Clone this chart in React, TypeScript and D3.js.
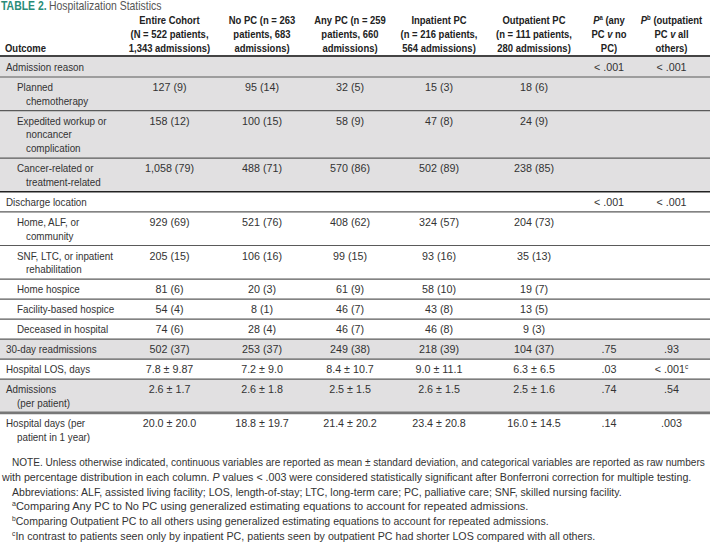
import React, { useLayoutEffect, useRef, useState } from "react";
import * as d3 from "d3";

// ---------- data ----------
const titleLabel = "TABLE 2.";
const titleText = "Hospitalization Statistics";

const columnKeys = ["outcome", "entire", "noPC", "anyPC", "inpatient", "outpatient", "pA", "pB"];

const outcomeHeader = "Outcome";
const groupHeaders = [
  ["Entire Cohort", "(N = 522 patients,", "1,343 admissions)"],
  ["No PC (n = 263", "patients, 683", "admissions)"],
  ["Any PC (n = 259", "patients, 660", "admissions)"],
  ["Inpatient PC", "(n = 216 patients,", "564 admissions)"],
  ["Outpatient PC", "(n = 111 patients,", "280 admissions)"],
];

const rowLabels = [
  ["Admission reason"],
  ["Planned", "chemotherapy"],
  ["Expedited workup or", "noncancer", "complication"],
  ["Cancer-related or", "treatment-related"],
  ["Discharge location"],
  ["Home, ALF, or", "community"],
  ["SNF, LTC, or inpatient", "rehabilitation"],
  ["Home hospice"],
  ["Facility-based hospice"],
  ["Deceased in hospital"],
  ["30-day readmissions"],
  ["Hospital LOS, days"],
  ["Admissions", "(per patient)"],
  ["Hospital days (per", "patient in 1 year)"],
];
const rowLevel = [0, 1, 1, 1, 0, 1, 1, 1, 1, 1, 0, 0, 0, 0];
const rowShaded = [1, 1, 1, 1, 0, 0, 0, 0, 0, 0, 1, 0, 1, 0];

const entireCohort = ["", "127 (9)", "158 (12)", "1,058 (79)", "", "929 (69)", "205 (15)", "81 (6)", "54 (4)", "74 (6)", "502 (37)", "7.8 ± 9.87", "2.6 ± 1.7", "20.0 ± 20.0"];
const noPC = ["", "95 (14)", "100 (15)", "488 (71)", "", "521 (76)", "106 (16)", "20 (3)", "8 (1)", "28 (4)", "253 (37)", "7.2 ± 9.0", "2.6 ± 1.8", "18.8 ± 19.7"];
const anyPC = ["", "32 (5)", "58 (9)", "570 (86)", "", "408 (62)", "99 (15)", "61 (9)", "46 (7)", "46 (7)", "249 (38)", "8.4 ± 10.7", "2.5 ± 1.5", "21.4 ± 20.2"];
const inpatientPC = ["", "15 (3)", "47 (8)", "502 (89)", "", "324 (57)", "93 (16)", "58 (10)", "43 (8)", "46 (8)", "218 (39)", "9.0 ± 11.1", "2.6 ± 1.5", "23.4 ± 20.8"];
const outpatientPC = ["", "18 (6)", "24 (9)", "238 (85)", "", "204 (73)", "35 (13)", "19 (7)", "13 (5)", "9 (3)", "104 (37)", "6.3 ± 6.5", "2.5 ± 1.6", "16.0 ± 14.5"];
const pAnyVsNo = ["< .001", "", "", "", "< .001", "", "", "", "", "", ".75", ".03", ".74", ".14"];
const pOutVsAll = ["< .001", "", "", "", "< .001", "", "", "", "", "", ".93", "< .001", ".54", ".003"];
const pOutVsAllNote = ["", "", "", "", "", "", "", "", "", "", "", "c", "", ""];

type Seg = { t: string; i?: boolean; sup?: boolean };
const footnotes: Seg[][] = [
  [{ t: "NOTE. Unless otherwise indicated, continuous variables are reported as mean ± standard deviation, and categorical variables are reported as raw numbers" }],
  [{ t: "with percentage distribution in each column. " }, { t: "P", i: true }, { t: " values < .003 were considered statistically significant after Bonferroni correction for multiple testing." }],
  [{ t: "Abbreviations: ALF, assisted living facility; LOS, length-of-stay; LTC, long-term care; PC, palliative care; SNF, skilled nursing facility." }],
  [{ t: "a", sup: true }, { t: "Comparing Any PC to No PC using generalized estimating equations to account for repeated admissions." }],
  [{ t: "b", sup: true }, { t: "Comparing Outpatient PC to all others using generalized estimating equations to account for repeated admissions." }],
  [{ t: "c", sup: true }, { t: "In contrast to patients seen only by inpatient PC, patients seen by outpatient PC had shorter LOS compared with all others." }],
];

// ---------- layout / style ----------
const W = 710;
const H = 544;
const FONT = "'Liberation Sans', Arial, Helvetica, sans-serif";
const colEdges = [0, 125, 214, 310, 390, 488, 580, 638, 705];
const headerBottom = 56;
const lineStep = 13.7;
const footLeft = [12, 2, 12, 12, 12, 12];
const footWidth = [693, 690, 610, 517, 537, 584];

const T = (p: any) => (
  <text
    transform={`translate(${p.x},${p.y}) scale(${p.sx ?? 1},1)`}
    textAnchor={p.anchor ?? "start"}
    fontSize={p.size}
    fontWeight={p.weight ?? 400}
    fill={p.fill}
    fontFamily={FONT}
  >
    {p.children}
  </text>
);

export default function App() {
  const fnRefs = useRef<(SVGTextElement | null)[]>([]);
  const [fnScale, setFnScale] = useState<number[]>(footnotes.map(() => 0.88));

  useLayoutEffect(() => {
    const s = fnRefs.current.map((el, i) => {
      if (!el) return 0.88;
      const len = el.getComputedTextLength();
      return len > 0 ? footWidth[i] / len : 0.88;
    });
    setFnScale(s);
  }, []);

  const centers = colEdges.slice(0, -1).map((e, i) => (e + colEdges[i + 1]) / 2);
  const x = d3.scaleOrdinal<string, number>().domain(columnKeys).range(centers);

  const heights = rowLabels.map((l) => 20 + lineStep * (l.length - 1));
  const tops = Array.from(d3.cumsum([headerBottom + 1, ...heights]));
  const valueCols: [string, string[]][] = [
    ["entire", entireCohort],
    ["noPC", noPC],
    ["anyPC", anyPC],
    ["inpatient", inpatientPC],
    ["outpatient", outpatientPC],
    ["pA", pAnyVsNo],
    ["pB", pOutVsAll],
  ];
  const headerKeys = ["entire", "noPC", "anyPC", "inpatient", "outpatient"];
  const hy = [24, 38, 52];
  const hs = { size: 11, weight: 700, fill: "#222", sx: 0.86, anchor: "middle" };
  const footY = d3.range(footnotes.length).map((i) => 466 + i * 14.8);

  return (
    <svg width={W} height={H} style={{ position: "absolute", left: 0, top: 0, display: "block", background: "#fff" }}>
      {/* title */}
      <T x={1} y={10} size={12} weight={700} fill="#2a8c78" sx={0.87}>{titleLabel}</T>
      <T x={49} y={10} size={12} fill="#555" sx={0.87}>{titleText}</T>

      {/* header */}
      <T x={5} y={hy[2]} size={11} weight={700} fill="#222" sx={0.86}>{outcomeHeader}</T>
      {headerKeys.map((k, ci) =>
        groupHeaders[ci].map((line, li) => (
          <T key={k + li} x={x(k)} y={hy[li]} {...hs}>{line}</T>
        ))
      )}
      <T x={x("pA")} y={hy[0]} {...hs}>
        <tspan fontStyle="italic">P</tspan>
        <tspan fontSize={7} dy={-4}>a</tspan>
        <tspan dy={4}> (any</tspan>
      </T>
      <T x={x("pA")} y={hy[1]} {...hs}>PC <tspan fontStyle="italic">v</tspan> no</T>
      <T x={x("pA")} y={hy[2]} {...hs}>PC)</T>
      <T x={x("pB")} y={hy[0]} {...hs}>
        <tspan fontStyle="italic">P</tspan>
        <tspan fontSize={7} dy={-4}>b</tspan>
        <tspan dy={4}> (outpatient</tspan>
      </T>
      <T x={x("pB")} y={hy[1]} {...hs}>PC <tspan fontStyle="italic">v</tspan> all</T>
      <T x={x("pB")} y={hy[2]} {...hs}>others)</T>

      {/* shaded rows */}
      {rowLabels.map((_, i) =>
        rowShaded[i] ? <rect key={"bg" + i} x={0} y={tops[i]} width={W} height={heights[i]} fill="#e1e0e1" /> : null
      )}

      {/* separators */}
      <line x1={0} x2={W} y1={headerBottom} y2={headerBottom} stroke="#444" strokeWidth={2} />
      {rowLabels.map((_, i) => {
        if (i === 0) return null;
        const y = tops[i];
        const strong = i === 4;
        const thick = i === 13;
        return (
          <line
            key={"ln" + i}
            x1={0}
            x2={W}
            y1={y}
            y2={y}
            stroke={strong ? "#222" : thick ? "#777" : "#5a5a5a"}
            strokeWidth={strong ? 1.6 : thick ? 2.6 : 1.2}
          />
        );
      })}

      {/* row labels */}
      {rowLabels.map((lines, i) =>
        lines.map((line, li) => (
          <T
            key={"lb" + i + li}
            x={rowLevel[i] === 0 ? (li === 0 ? 6 : 17) : li === 0 ? 17 : 26}
            y={tops[i] + 14 + li * lineStep}
            size={11.3}
            fill="#333"
            sx={0.87}
          >
            {line}
          </T>
        ))
      )}

      {/* values */}
      {valueCols.map(([k, vals]) =>
        vals.map((v, i) =>
          v ? (
            <T key={k + i} x={x(k)} y={tops[i] + 14} size={11.3} fill="#333" sx={0.95} anchor="middle">
              {v}
              {k === "pB" && pOutVsAllNote[i] ? (
                <tspan fontSize={7} dy={-4}>{pOutVsAllNote[i]}</tspan>
              ) : null}
            </T>
          ) : null
        )
      )}

      {/* footnotes */}
      {footnotes.map((segs, i) => (
        <text
          key={"fn" + i}
          ref={(el) => { fnRefs.current[i] = el; }}
          transform={`translate(${footLeft[i]},${footY[i]}) scale(${fnScale[i]},1)`}
          fontSize={11}
          fill="#333"
          fontFamily={FONT}
        >
          {segs.map((s, j) => (
            <tspan
              key={j}
              fontStyle={s.i ? "italic" : undefined}
              fontSize={s.sup ? 7 : undefined}
              dy={s.sup ? -4 : j > 0 && segs[j - 1].sup ? 4 : undefined}
            >
              {s.t}
            </tspan>
          ))}
        </text>
      ))}
    </svg>
  );
}
